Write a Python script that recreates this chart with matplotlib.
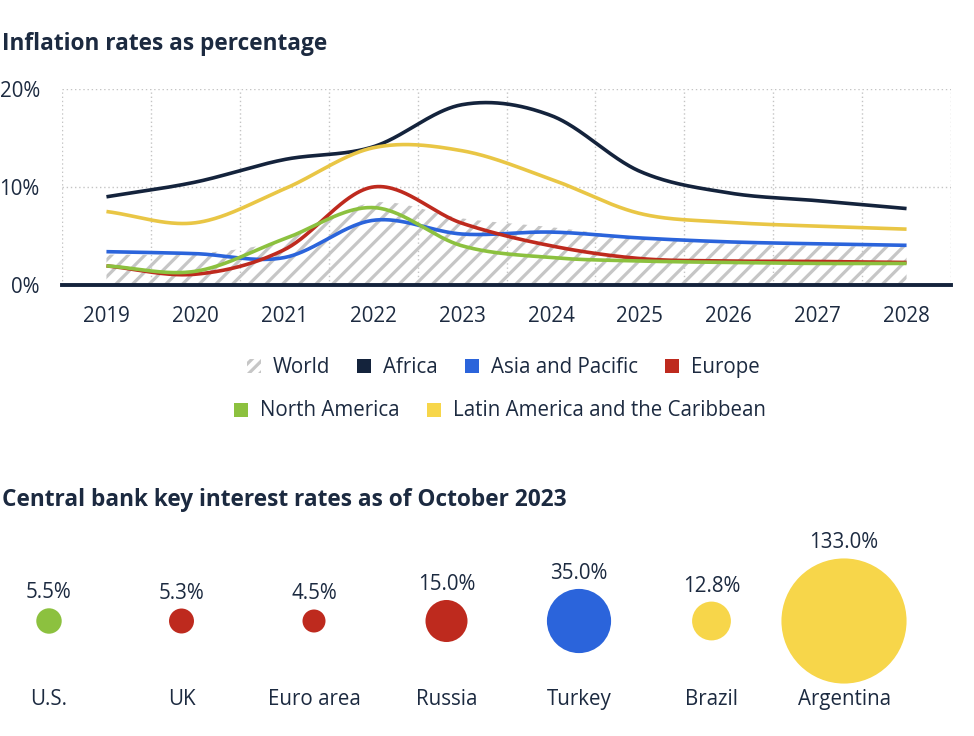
import numpy as np
import matplotlib
matplotlib.use("Agg")
import matplotlib.pyplot as plt
from matplotlib.patches import Rectangle

# ---------------- data ----------------
years = [2019, 2020, 2021, 2022, 2023, 2024, 2025, 2026, 2027, 2028]
world = [3.1, 3.2, 4.6, 8.4, 6.8, 5.9, 4.8, 4.2, 4.0, 3.9]
africa = [9.0, 10.5, 12.8, 14.1, 18.4, 17.3, 11.6, 9.4, 8.6, 7.8]
asia_pacific = [3.4, 3.2, 2.8, 6.6, 5.2, 5.4, 4.8, 4.4, 4.2, 4.05]
europe = [1.95, 1.1, 3.6, 10.0, 6.3, 4.0, 2.7, 2.45, 2.4, 2.3]
north_america = [1.95, 1.4, 4.7, 7.9, 4.0, 2.8, 2.45, 2.3, 2.2, 2.2]
latin_america = [7.5, 6.35, 9.8, 14.0, 13.7, 10.8, 7.3, 6.4, 6.0, 5.7]
series_names = ["World", "Africa", "Asia and Pacific", "Europe",
                "North America", "Latin America and the Caribbean"]
y_ticks = [0, 10, 20]
y_tick_labels = ["0%", "10%", "20%"]

countries = ["U.S.", "UK", "Euro area", "Russia", "Turkey", "Brazil", "Argentina"]
rates = [5.5, 5.3, 4.5, 15.0, 35.0, 12.8, 133.0]
rate_labels = ["5.5%", "5.3%", "4.5%", "15.0%", "35.0%", "12.8%", "133.0%"]

# ---------------- style ----------------
NAVY = "#14233c"
BLUE = "#2b64db"
RED = "#be2a1e"
GREEN = "#8cc13f"
YELLOW_LINE = "#e9c645"
YELLOW = "#f7d64a"
HATCH = "#c6c6c6"
TEXT = "#1c2a40"
GRID = "#c4c4c4"
FS = 14.8
TFS = 16.3

series_colors = [HATCH, NAVY, BLUE, RED, GREEN, YELLOW_LINE]
legend_colors = [HATCH, NAVY, BLUE, RED, GREEN, YELLOW]
rate_colors = [GREEN, RED, RED, RED, BLUE, YELLOW, YELLOW]

plt.rcParams["font.family"] = ["Open Sans", "DejaVu Sans"]
plt.rcParams["hatch.linewidth"] = 2.3

W, H = 974, 736
fig = plt.figure(figsize=(W / 100, H / 100), dpi=100)


def fx(x):
    return x / W


def fy(y):
    return 1 - y / H


def smooth(x, y, n=60):
    """Cubic Hermite (Catmull-Rom style) curve through the data points."""
    x = np.asarray(x, float)
    y = np.asarray(y, float)
    m = np.empty_like(y)
    m[1:-1] = (y[2:] - y[:-2]) / (x[2:] - x[:-2])
    m[0] = (y[1] - y[0]) / (x[1] - x[0])
    m[-1] = (y[-1] - y[-2]) / (x[-1] - x[-2])
    xs, ys = [], []
    for i in range(len(x) - 1):
        h = x[i + 1] - x[i]
        t = np.linspace(0, 1, n, endpoint=(i == len(x) - 2))
        h00 = 2 * t**3 - 3 * t**2 + 1
        h10 = t**3 - 2 * t**2 + t
        h01 = -2 * t**3 + 3 * t**2
        h11 = t**3 - t**2
        xs.append(x[i] + t * h)
        ys.append(h00 * y[i] + h10 * h * m[i] + h01 * y[i + 1] + h11 * h * m[i + 1])
    return np.concatenate(xs), np.concatenate(ys)


# ---------------- line chart ----------------
ax = fig.add_axes([fx(62), fy(285), (951 - 62) / W, (285 - 89) / H])
ax.set_xlim(years[0] - 0.5, years[-1] + 0.5)
ax.set_ylim(0, 20)
for s in ax.spines.values():
    s.set_visible(False)

ax.set_xticks(years)
ax.set_xticklabels([str(y) for y in years])
ax.set_xticks([y - 0.5 for y in years] + [years[-1] + 0.5], minor=True)
ax.set_yticks(y_ticks)
ax.set_yticklabels(y_tick_labels)
ax.tick_params(axis="x", which="both", length=0, pad=15, labelsize=FS, labelcolor=TEXT)
ax.tick_params(axis="y", which="both", length=0, pad=16, labelsize=FS, labelcolor=TEXT)
ax.grid(True, which="minor", axis="x", color=GRID, lw=1, ls=(0, (1, 2)))
ax.grid(True, which="major", axis="y", color=GRID, lw=1, ls=(0, (1, 2)))
ax.grid(False, which="major", axis="x")
ax.set_axisbelow(True)

wx, wy = smooth(years, world)
ax.fill(np.concatenate([wx, [wx[-1], wx[0]]]),
        np.concatenate([wy, [0, 0]]),
        facecolor="none", edgecolor=HATCH, hatch="//", linewidth=0, zorder=2)

for vals, col in zip([africa, asia_pacific, europe, north_america, latin_america],
                     series_colors[1:]):
    sx, sy = smooth(years, vals)
    ax.plot(sx, sy, color=col, lw=2.6, solid_capstyle="butt", zorder=3)

ax.axhline(0, color=NAVY, lw=2.8, zorder=4, clip_on=False)

# ---------------- titles ----------------
fig.text(fx(2), fy(44), "Inflation rates as percentage", fontsize=TFS,
         fontweight="bold", color=TEXT, va="center", ha="left")
fig.text(fx(2), fy(500), "Central bank key interest rates as of October 2023",
         fontsize=TFS, fontweight="bold", color=TEXT, va="center", ha="left")

# ---------------- legend (manual layout) ----------------
renderer = fig.canvas.get_renderer()
rows = [([0, 1, 2, 3], 367, 503), ([4, 5], 411, 500)]
MK = 14
GAP_TXT = 12
GAP_ITEM = 27
for idxs, yrow, xcenter in rows:
    texts = []
    widths = []
    for i in idxs:
        t = fig.text(0, fy(yrow), series_names[i], fontsize=FS, color=TEXT,
                     va="center", ha="left")
        texts.append(t)
        widths.append(t.get_window_extent(renderer).width)
    total = sum(MK + GAP_TXT + w for w in widths) + GAP_ITEM * (len(idxs) - 1)
    x = xcenter - total / 2
    for i, t, w in zip(idxs, texts, widths):
        if i == 0:
            r = Rectangle((fx(x), fy(yrow - 1 + MK / 2)), MK / W, MK / H,
                          transform=fig.transFigure, facecolor="none",
                          edgecolor=HATCH, hatch="///", linewidth=0)
        else:
            r = Rectangle((fx(x), fy(yrow - 1 + MK / 2)), MK / W, MK / H,
                          transform=fig.transFigure, facecolor=legend_colors[i],
                          edgecolor="none")
        fig.patches.append(r)
        t.set_x(fx(x + MK + GAP_TXT))
        x += MK + GAP_TXT + w + GAP_ITEM

# ---------------- bubble chart ----------------
ax2 = fig.add_axes([0, 0, 1, (H - 520) / H])
step = 132.5
first = 49
ax2.set_xlim(-first / step, (W - first) / step)
ax2.set_ylim(H, 520)
ax2.axis("off")

K = 10.85  # bubble diameter in px per sqrt(percent)
CY = 621
pos = np.arange(len(countries))
sizes = [(0.72 * K) ** 2 * v for v in rates]
ax2.scatter(pos, [CY] * len(pos), s=sizes, c=rate_colors, linewidths=0, zorder=3)
for p, v, lab, name in zip(pos, rates, rate_labels, countries):
    r = K * np.sqrt(v) / 2
    ax2.text(p, CY - r - 5, lab, ha="center", va="bottom", fontsize=FS, color=TEXT)
    ax2.text(p, 700, name, ha="center", va="center", fontsize=FS, color=TEXT)

fig.savefig("out.png", dpi=100)
